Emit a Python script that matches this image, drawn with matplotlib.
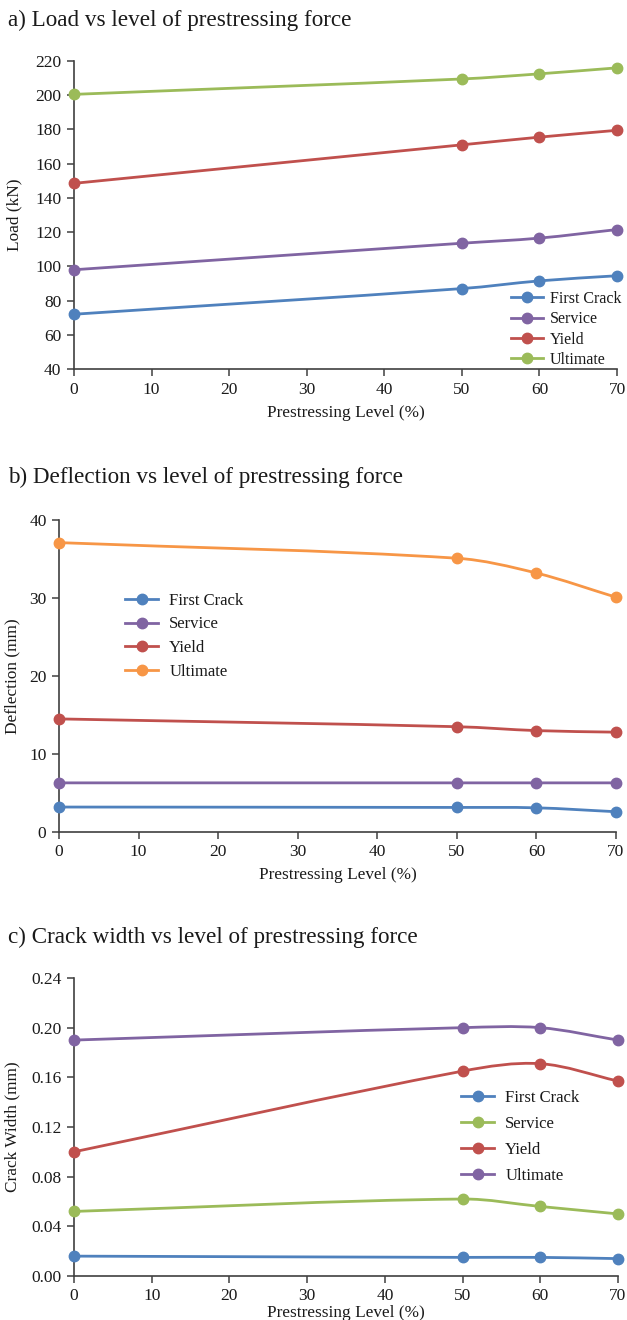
import matplotlib
matplotlib.use('Agg')
import matplotlib.pyplot as plt
from matplotlib.path import Path
from matplotlib.patches import PathPatch
from matplotlib.lines import Line2D
import numpy as np

plt.rcParams['font.family'] = ['Liberation Serif', 'DejaVu Serif']

# ── Data ──────────────────────────────────────────────────────────────────────
levels = [0, 50, 60, 70]          # prestressing level (%)
stages = ['First Crack', 'Service', 'Yield', 'Ultimate']

load_kn = {
    'First Crack': [72, 87, 91.5, 94.5],
    'Service':     [98, 113.5, 116.5, 121.5],
    'Yield':       [148.5, 171, 175.5, 179.5],
    'Ultimate':    [200.5, 209.5, 212.5, 216],
}
deflection_mm = {
    'First Crack': [3.2, 3.15, 3.1, 2.6],
    'Service':     [6.3, 6.3, 6.3, 6.3],
    'Yield':       [14.5, 13.5, 13.0, 12.8],
    'Ultimate':    [37.1, 35.1, 33.2, 30.1],
}
crack_mm = {
    'First Crack': [0.016, 0.015, 0.015, 0.014],
    'Service':     [0.052, 0.062, 0.056, 0.050],
    'Yield':       [0.100, 0.165, 0.171, 0.157],
    'Ultimate':    [0.190, 0.200, 0.200, 0.190],
}

# ── Colours (Office palette) ──────────────────────────────────────────────────
BLUE   = '#4F81BD'
RED    = '#C0504D'
GREEN  = '#9BBB59'
PURPLE = '#8064A2'
ORANGE = '#F79646'
AXIS   = '#404040'
TEXT   = '#1a1a1a'

W, H = 627, 1320
fig = plt.figure(figsize=(W / 100, H / 100), dpi=100)


def fx(px):
    return px / W


def fy(py):
    return 1 - py / H


def smooth_path(xs, ys):
    """Cubic Bezier path through the points (Hermite tangents, x-monotone)."""
    x = np.asarray(xs, float)
    y = np.asarray(ys, float)
    n = len(x)
    slopes = np.empty(n)
    for i in range(n):
        lo, hi = max(i - 1, 0), min(i + 1, n - 1)
        slopes[i] = (y[hi] - y[lo]) / (x[hi] - x[lo])
    verts = [(x[0], y[0])]
    codes = [Path.MOVETO]
    for i in range(n - 1):
        h = x[i + 1] - x[i]
        verts += [(x[i] + h / 3, y[i] + slopes[i] * h / 3),
                  (x[i + 1] - h / 3, y[i + 1] - slopes[i + 1] * h / 3),
                  (x[i + 1], y[i + 1])]
        codes += [Path.CURVE4] * 3
    return Path(verts, codes)


def panel(box, data, colors, ylim, yticks, yfmt, ylabel, title, title_y,
          xlabel_y, ylabel_x, leg_xy, leg_spacing, leg_size, leg_pad):
    left, top, right, bottom = box
    ax = fig.add_axes([fx(left), fy(bottom), fx(right - left), (bottom - top) / H])
    for name in stages:
        c = colors[name]
        ax.add_patch(PathPatch(smooth_path(levels, data[name]), facecolor='none',
                               edgecolor=c, lw=2.0, capstyle='round', zorder=3,
                               clip_on=False))
        ax.plot(levels, data[name], 'o', color=c, ms=7.5, zorder=4, clip_on=False)

    ax.set_xlim(0, 70)
    ax.set_ylim(*ylim)
    ax.set_xticks([0, 10, 20, 30, 40, 50, 60, 70])
    ax.set_yticks(yticks)
    ax.set_yticklabels([yfmt.format(v) for v in yticks])
    ax.spines[['top', 'right']].set_visible(False)
    ax.spines[['left', 'bottom']].set_color(AXIS)
    ax.spines[['left', 'bottom']].set_linewidth(1.2)
    ax.tick_params(direction='out', length=5, width=1.1, color=AXIS,
                   labelsize=12.5, labelcolor=TEXT, pad=4)

    fig.text(fx(8), fy(title_y), title, fontsize=16.7, color=TEXT, va='center', ha='left')
    fig.text(fx((left + right) / 2), fy(xlabel_y), 'Prestressing Level (%)',
             fontsize=12.4, color=TEXT, ha='center', va='center')
    fig.text(fx(ylabel_x), fy((top + bottom) / 2), ylabel, fontsize=12.4, color=TEXT,
             rotation=90, ha='center', va='center')

    handles = [Line2D([], [], color=colors[n], lw=2.0, marker='o', ms=7.5)
               for n in stages]
    ax.legend(handles, stages, loc='upper left', frameon=False,
              bbox_to_anchor=(fx(leg_xy[0]), fy(leg_xy[1])),
              bbox_transform=fig.transFigure, borderpad=0, borderaxespad=0,
              handlelength=2.0, handletextpad=leg_pad, labelspacing=leg_spacing,
              fontsize=leg_size, labelcolor=TEXT)
    return ax


# a) load
panel((74, 61, 617, 369), load_kn,
      {'First Crack': BLUE, 'Service': PURPLE, 'Yield': RED, 'Ultimate': GREEN},
      (40, 220), list(range(40, 221, 20)), '{:d}', 'Load (kN)',
      'a) Load vs level of prestressing force', 20, 413, 14,
      (511, 291), 0.27, 11.5, 0.45)

# b) deflection
panel((59, 520, 616, 832), deflection_mm,
      {'First Crack': BLUE, 'Service': PURPLE, 'Yield': RED, 'Ultimate': ORANGE},
      (0, 40), [0, 10, 20, 30, 40], '{:d}', 'Deflection (mm)',
      'b) Deflection vs level of prestressing force', 477, 875, 12,
      (125, 593), 0.45, 12, 0.65)

# c) crack width
panel((74, 978, 618, 1276), crack_mm,
      {'First Crack': BLUE, 'Service': GREEN, 'Yield': RED, 'Ultimate': PURPLE},
      (0, 0.24), [0, 0.04, 0.08, 0.12, 0.16, 0.20, 0.24], '{:.2f}', 'Crack Width (mm)',
      'c) Crack width vs level of prestressing force', 937, 1313, 12,
      (461, 1090), 0.6, 12, 0.65)

plt.savefig('out.png', dpi=100)
print('Saved out.png')
